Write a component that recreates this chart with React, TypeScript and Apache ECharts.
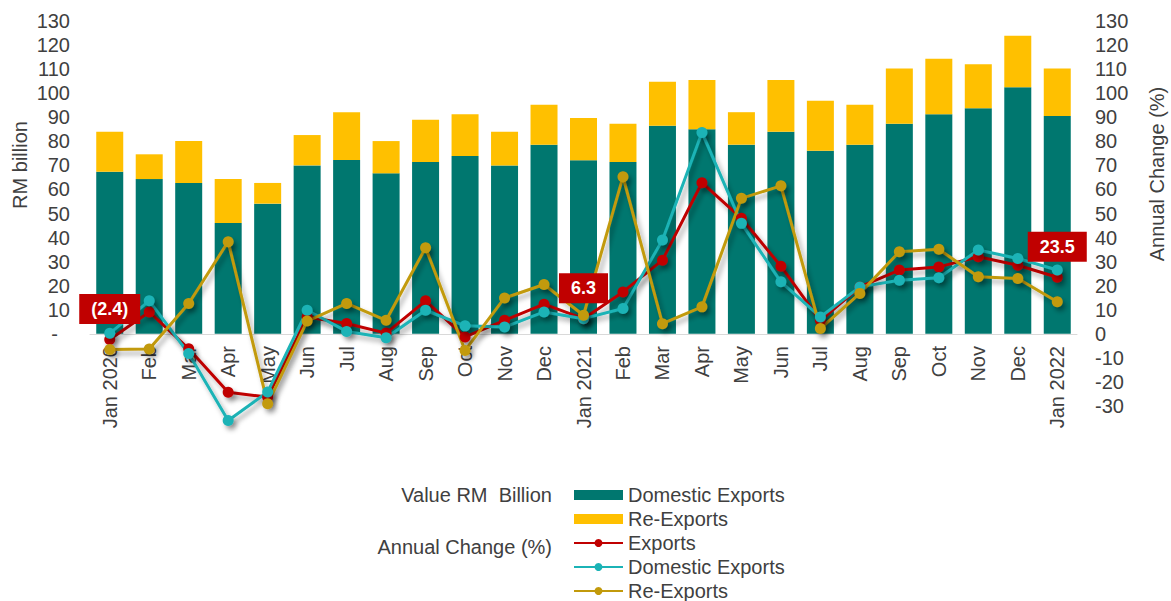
import React, { useEffect, useRef } from 'react';
import * as echarts from 'echarts';

const categories = [
  'Jan 2020', 'Feb', 'Mar', 'Apr', 'May', 'Jun', 'Jul', 'Aug', 'Sep', 'Oct', 'Nov', 'Dec',
  'Jan 2021', 'Feb', 'Mar', 'Apr', 'May', 'Jun', 'Jul', 'Aug', 'Sep', 'Oct', 'Nov', 'Dec',
  'Jan 2022',
];

// RM billion (stacked bars)
const domesticValue = [
  67.4, 64.3, 62.7, 46.1, 54.1, 70.0, 72.2, 66.7, 71.4, 73.9, 69.9, 78.6,
  72.1, 71.4, 86.5, 85.0, 78.6, 84.0, 76.1, 78.6, 87.3, 91.2, 93.7, 102.5,
  90.5,
];
const reExportsValue = [
  16.6, 10.3, 17.4, 18.2, 8.6, 12.6, 19.9, 13.4, 17.6, 17.3, 14.1, 16.6,
  17.6, 15.9, 18.3, 20.5, 13.5, 21.5, 20.8, 16.6, 23.0, 23.1, 18.3, 21.4,
  19.8,
];

// Annual change (%)
const exportsChange = [
  -2.4, 9.1, -6.2, -24.3, -26.3, 7.0, 4.3, 0.3, 13.7, -1.3, 5.6, 12.3,
  6.3, 17.4, 30.6, 62.8, 48.0, 28.1, 5.5, 19.5, 26.5, 27.8, 32.0, 28.5,
  23.5,
];
const domesticChange = [
  0.2, 13.7, -8.2, -36.0, -24.2, 9.8, 1.0, -1.6, 9.8, 3.3, 2.8, 9.1,
  6.3, 10.5, 39.0, 83.7, 45.9, 21.6, 7.0, 19.5, 22.3, 23.3, 34.8, 31.3,
  26.5,
];
const reExportsChange = [
  -6.5, -6.3, 12.6, 38.3, -29.1, 5.3, 12.6, 5.6, 35.8, -6.9, 14.9, 20.5,
  7.7, 65.3, 4.2, 11.2, 56.3, 61.5, 2.2, 16.8, 34.1, 35.1, 23.7, 23.0,
  13.3,
];
const labelledIndexes = [0, 12, 24];

const FONT = "'Liberation Sans', Arial, sans-serif";
const TEXT = '#404040';

const shadow = {
  shadowColor: 'rgba(0,0,0,0.35)',
  shadowBlur: 5,
  shadowOffsetX: 3,
  shadowOffsetY: 4,
};

function lineSeries(name: string, data: number[], color: string, withLabels: boolean) {
  return {
    name,
    type: 'line',
    yAxisIndex: 1,
    clip: false,
    data: data.map((v, i) =>
      withLabels && labelledIndexes.includes(i)
        ? {
            value: v,
            label: {
              show: true,
              position: 'top',
              distance: 10,
              formatter: (p: any) =>
                p.value < 0 ? `(${Math.abs(p.value).toFixed(1)})` : Number(p.value).toFixed(1),
              backgroundColor: '#C00000',
              color: '#ffffff',
              fontWeight: 'bold',
              fontSize: 18,
              fontFamily: FONT,
              padding: [6, 12],
            },
          }
        : v
    ),
    symbol: 'circle',
    symbolSize: 11,
    itemStyle: { color, ...shadow },
    lineStyle: { color, width: 3, ...shadow },
    z: 3,
  };
}

export default function App() {
  const ref = useRef<HTMLDivElement>(null);
  useEffect(() => {
    document.body.style.margin = '0';
    const chart = echarts.init(ref.current!, null, { renderer: 'svg' });
    chart.setOption({
      animation: false,
      textStyle: { fontFamily: FONT },
      grid: { left: 90, right: 94, top: 21, bottom: 195 },
      legend: {
        type: 'plain',
        orient: 'vertical',
        left: 573,
        top: 485,
        height: 140,
        padding: 0,
        itemWidth: 49,
        itemHeight: 10,
        itemGap: 4,
        textStyle: { fontSize: 20, color: TEXT, fontFamily: FONT, lineHeight: 20 },
        formatter: (n: string) => n.replace(' (%)', ''),
        data: [
          { name: 'Domestic Exports', icon: 'rect' },
          { name: 'Re-Exports', icon: 'rect' },
          'Exports',
          'Domestic Exports (%)',
          'Re-Exports (%)',
        ],
      },
      graphic: [
        {
          type: 'text', x: 20, y: 165, rotation: Math.PI / 2,
          style: { text: 'RM billion', fontSize: 20, fontFamily: FONT, fill: TEXT, align: 'center', verticalAlign: 'middle' },
        },
        {
          type: 'text', x: 1157, y: 174, rotation: Math.PI / 2,
          style: { text: 'Annual Change (%)', fontSize: 20, fontFamily: FONT, fill: TEXT, align: 'center', verticalAlign: 'middle' },
        },
        {
          type: 'text', x: 552, y: 495,
          style: { text: 'Value RM  Billion', fontSize: 20, fontFamily: FONT, fill: TEXT, align: 'right', verticalAlign: 'middle' },
        },
        {
          type: 'text', x: 552, y: 547,
          style: { text: 'Annual Change (%)', fontSize: 20, fontFamily: FONT, fill: TEXT, align: 'right', verticalAlign: 'middle' },
        },
      ],
      xAxis: {
        type: 'category',
        data: categories,
        position: 'bottom',
        offset: -72,
        axisLine: { onZero: false, lineStyle: { color: '#D9D9D9', width: 1 } },
        axisTick: { show: false },
        axisLabel: { rotate: 90, interval: 0, margin: 12, color: TEXT, fontSize: 20, fontFamily: FONT },
      },
      yAxis: [
        {
          type: 'value',
          min: -30,
          max: 130,
          interval: 10,
          axisLine: { show: false },
          axisTick: { show: false },
          splitLine: { show: false },
          axisLabel: {
            margin: 20,
            color: TEXT,
            fontSize: 20,
            fontFamily: FONT,
            formatter: (v: number) => (v === 0 ? '{d|-}' : v < 0 ? '' : String(v)),
            rich: { d: { padding: [0, 12, 0, 0], fontSize: 20, color: TEXT, fontFamily: FONT } },
          },
        },
        {
          type: 'value',
          position: 'right',
          min: -30,
          max: 130,
          interval: 10,
          axisLine: { show: false },
          axisTick: { show: false },
          splitLine: { show: false },
          axisLabel: { margin: 18, color: TEXT, fontSize: 20, fontFamily: FONT },
        },
      ],
      series: [
        {
          name: 'Domestic Exports',
          type: 'bar',
          stack: 'value',
          yAxisIndex: 0,
          barWidth: 27,
          itemStyle: { color: '#00776F' },
          data: domesticValue,
        },
        {
          name: 'Re-Exports',
          type: 'bar',
          stack: 'value',
          yAxisIndex: 0,
          barWidth: 27,
          itemStyle: { color: '#FFC000' },
          data: reExportsValue,
        },
        lineSeries('Exports', exportsChange, '#C00000', true),
        lineSeries('Domestic Exports (%)', domesticChange, '#1BB3B6', false),
        lineSeries('Re-Exports (%)', reExportsChange, '#C29A0B', false),
      ],
    });
    return () => chart.dispose();
  }, []);
  return <div ref={ref} style={{ width: 1171, height: 601 }} />;
}
